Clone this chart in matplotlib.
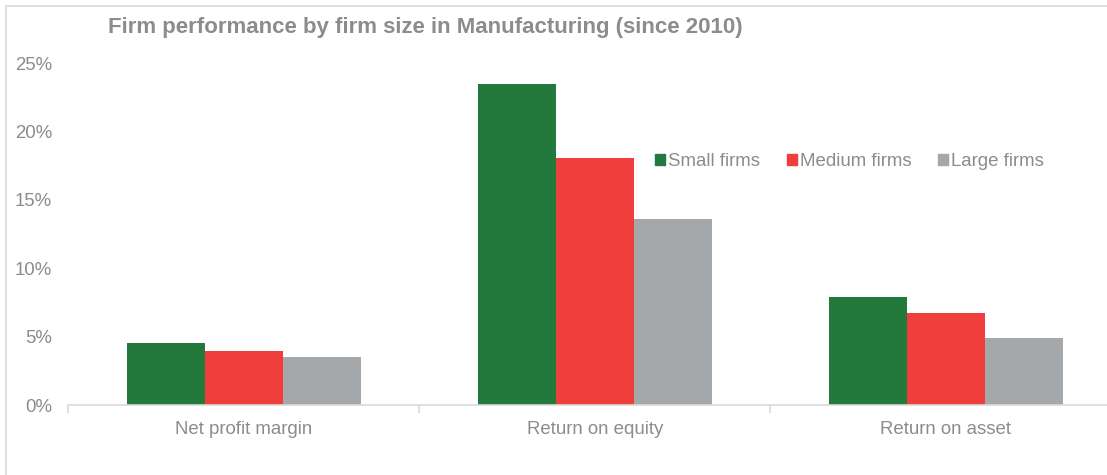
import numpy as np
import matplotlib.pyplot as plt
from matplotlib.patches import Rectangle, Patch

# firm performance (share, not percent)
categories = ["Net profit margin", "Return on equity", "Return on asset"]
series = ["Small firms", "Medium firms", "Large firms"]
small = [0.0455, 0.2345, 0.079]
medium = [0.0395, 0.1805, 0.067]
large = [0.035, 0.136, 0.049]
colors = ["#23793B", "#EF3E3B", "#A5A8AA"]

plt.rcParams['font.family'] = ['Liberation Sans', 'DejaVu Sans']
txt = "#8C8C8C"
fs = 13.4

fig = plt.figure(figsize=(11.07, 4.75), dpi=100)
W, H = 1107, 475

# chart frame (cut off on right and bottom)
fig.patches.append(Rectangle((6 / W, -0.1), 1.2, 1 - 6 / H + 0.1, transform=fig.transFigure,
                             fill=False, edgecolor="#D9D9D9", lw=1.2))

ax = fig.add_axes([68 / W, 70 / H, 1053.5 / W, 342 / H])
x = np.arange(len(categories))
bw = 0.222
for i, (vals, c) in enumerate(zip([small, medium, large], colors)):
    ax.bar(x + (i - 1) * bw, vals, bw, color=c, label=series[i], zorder=2)

ax.set_xlim(-0.5, 2.5)
ax.set_ylim(0, 0.25)
yt = np.arange(0, 0.26, 0.05)
ax.set_yticks(yt)
ax.set_yticklabels([f"{int(round(v * 100))}%" for v in yt])
ax.set_xticks(x)
ax.set_xticklabels(categories)
ax.set_xticks([-0.5, 0.5, 1.5, 2.5], minor=True)
ax.tick_params(axis="x", which="major", length=0, pad=11.5, labelsize=fs, labelcolor=txt)
ax.tick_params(axis="x", which="minor", length=6, color="#D9D9D9", width=1.2)
ax.tick_params(axis="y", length=0, pad=11.5, labelsize=fs, labelcolor=txt)
for s in ["top", "right", "left"]:
    ax.spines[s].set_visible(False)
ax.spines["bottom"].set_color("#D9D9D9")
ax.spines["bottom"].set_linewidth(1.2)

fig.text(108 / W, 1 - 28 / H, "Firm performance by firm size in Manufacturing (since 2010)",
         fontsize=16, fontweight="bold", color=txt, va="center", ha="left")

handles = [Patch(color=c) for c in colors]
fig.legend(handles, series, loc="center left", bbox_to_anchor=(638 / W, 1 - 161.5 / H),
           ncol=3, frameon=False, fontsize=fs, labelcolor=txt,
           handlelength=0.54, handleheight=0.54, handletextpad=0.16, columnspacing=1.45)

fig.savefig("out.png", dpi=100)
